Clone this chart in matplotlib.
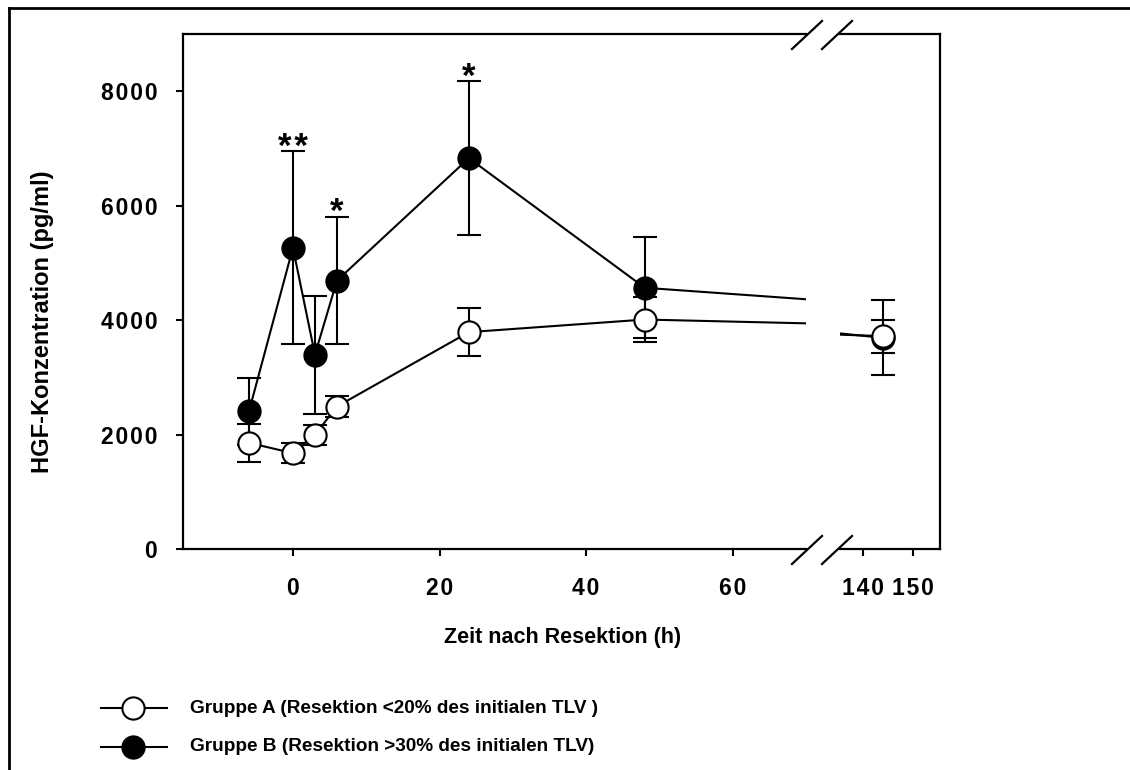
import matplotlib
matplotlib.use("Agg")
import matplotlib.pyplot as plt
from matplotlib.lines import Line2D
from matplotlib.ticker import FuncFormatter

plt.rcParams["font.family"] = ["Liberation Sans", "DejaVu Sans"]
plt.rcParams["font.weight"] = "bold"

# HGF serum levels (pg/ml), mean +/- SD, per sampling time (h after resection)
hours = [-6, 0, 3, 6, 24, 48, 144]
group_a_mean = [1855, 1675, 1995, 2490, 3790, 4010, 3720]
group_a_sd = [330, 170, 180, 185, 415, 390, 290]
group_b_mean = [2405, 5265, 3395, 4690, 6830, 4565, 3690]
group_b_sd = [585, 1690, 1030, 1115, 1350, 880, 655]

# significance of group B vs. group A
sig_hours = [0, 6, 24]
sig_marks = ["**", "*", "*"]

legend_labels = ["Gruppe A (Resektion <20% des initialen TLV )",
                 "Gruppe B (Resektion >30% des initialen TLV)"]
face_colors = ["white", "black"]

W, H = 1130, 770
fig = plt.figure(figsize=(W / 100, H / 100), dpi=100)


def fx(x):
    return x / W


def fy(y):
    return 1 - y / H


def box(x0, y0, x1, y1):
    return [fx(x0), fy(y1), (x1 - x0) / W, (y1 - y0) / H]


# broken time axis: -15..70 h on the left, 135..155 h on the right
ax = fig.add_axes(box(183, 34, 806, 549))
ax2 = fig.add_axes(box(840, 34, 940, 549))

style = dict(color="black", lw=1.5, marker="o", ms=16, mec="black", mew=1.5,
             ecolor="black", elinewidth=1.5, capsize=8.5, capthick=1.5)
for a in (ax, ax2):
    a.errorbar(hours, group_b_mean, yerr=group_b_sd, mfc=face_colors[1], zorder=2, **style)
    a.errorbar(hours, group_a_mean, yerr=group_a_sd, mfc=face_colors[0], zorder=3, **style)
    a.set_ylim(0, 9000)
    for s in a.spines.values():
        s.set_linewidth(1.6)
    a.tick_params(direction="out", length=5, width=1.5, labelsize=16.5)

ax.set_xlim(-15, 70)
ax.spines["right"].set_visible(False)
ax.set_xticks([0, 20, 40, 60])
ax.set_yticks([0, 2000, 4000, 6000, 8000])
ax.tick_params(axis="y", pad=13.5)
ax.tick_params(axis="x", pad=15)

ax2.set_xlim(135.5, 155.3)
ax2.spines["left"].set_visible(False)
ax2.set_xticks([140, 150])
ax2.set_yticks([])
ax2.tick_params(axis="x", pad=15)

spaced = FuncFormatter(lambda v, p: "\u200a".join(f"{v:.0f}"))
for a in (ax, ax2):
    a.xaxis.set_major_formatter(spaced)
ax.yaxis.set_major_formatter(spaced)

for h, mark in zip(sig_hours, sig_marks):
    i = hours.index(h)
    ax.annotate("\u200a".join(mark), (h, group_b_mean[i] + group_b_sd[i]),
                xytext=(0, -9), textcoords="offset points",
                ha="center", va="bottom", fontsize=25)

# break marks on top and bottom
for yb in (35, 550):
    for x0 in (792, 822):
        fig.add_artist(Line2D([fx(x0), fx(x0 + 30)], [fy(yb + 14), fy(yb - 14)],
                              color="black", lw=1.6))

fig.text(fx(43), fy(322), "HGF-Konzentration (pg/ml)", rotation=90,
         ha="center", va="center", fontsize=17)
fig.text(fx(563), fy(637), "Zeit nach Resektion (h)", ha="center", va="center",
         fontsize=15.5)

# legend
for i, (fc, lab) in enumerate(zip(face_colors, legend_labels)):
    y = fy(708.3 + 38.4 * i)
    fig.add_artist(Line2D([fx(101), fx(167)], [y, y], color="black", lw=1.5))
    fig.add_artist(Line2D([fx(133)], [y], marker="o", ms=16, mfc=fc,
                          mec="black", mew=1.5))
    fig.text(fx(190), y, lab, ha="left", va="center", fontsize=13.7)

# outer frame (top and left)
fig.add_artist(Line2D([fx(8.5), 1], [fy(7.5), fy(7.5)], color="black", lw=2))
fig.add_artist(Line2D([fx(8.5), fx(8.5)], [fy(7.5), 0], color="black", lw=2))

fig.savefig("out.png", dpi=100)
